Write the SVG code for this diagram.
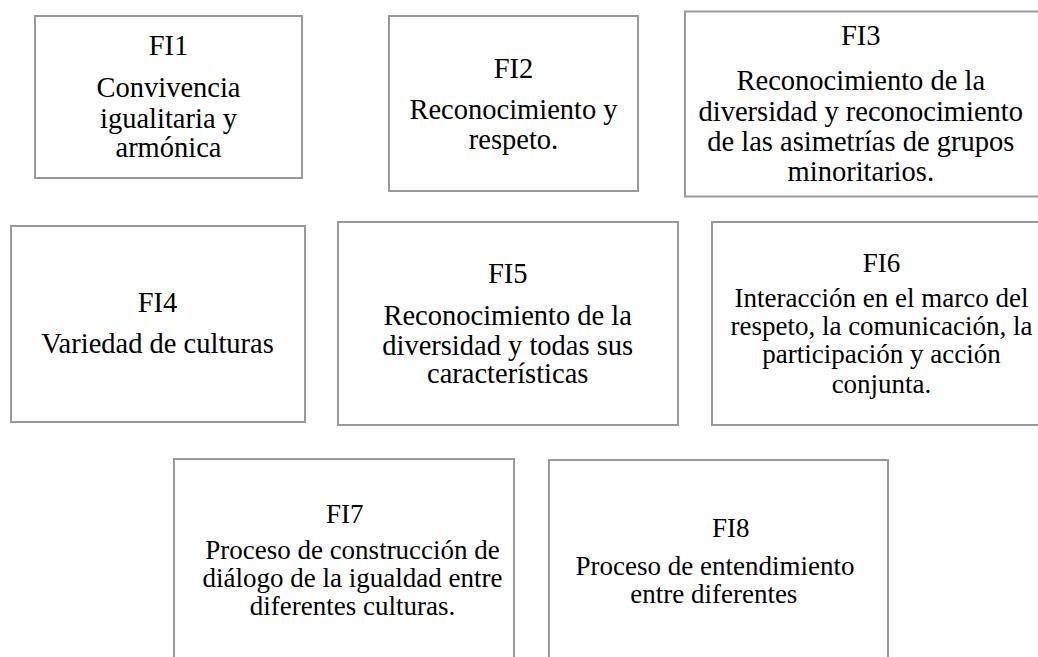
<svg xmlns="http://www.w3.org/2000/svg" width="1038" height="657" viewBox="0 0 1038 657">
<style>
.box{fill:#fff;stroke:#999;stroke-width:2}
text{font-family:"Liberation Serif","Times New Roman",serif;fill:#000;text-anchor:middle;font-size:28.5px}
.s27{font-size:27px}
</style>
<rect width="1038" height="657" fill="#fff"/>
<g id="connectors"></g>
<g id="FI1">
<rect class="box" x="35" y="16" width="267" height="162"/>
<text x="168.5" y="55">FI1</text>
<text x="168.5" y="97">Convivencia</text>
<text x="168.5" y="127.5">igualitaria y</text>
<text x="168.5" y="157">armónica</text>
</g>
<g id="FI2">
<rect class="box" x="389" y="16" width="249" height="175"/>
<text x="513.5" y="77.5">FI2</text>
<text x="513.5" y="118.5">Reconocimiento y</text>
<text x="513.5" y="149">respeto.</text>
</g>
<g id="FI3">
<rect class="box" x="685" y="11.5" width="370" height="185"/>
<text x="860.8" y="45">FI3</text>
<text x="860.8" y="90">Reconocimiento de la</text>
<text x="860.8" y="120.7">diversidad y reconocimiento</text>
<text x="860.8" y="150.7">de las asimetrías de grupos</text>
<text x="860.8" y="181">minoritarios.</text>
</g>
<g id="FI4">
<rect class="box" x="11" y="226" width="294" height="196"/>
<text x="157.5" y="311.7">FI4</text>
<text x="157.5" y="353.3">Variedad de culturas</text>
</g>
<g id="FI5">
<rect class="box" x="338" y="222" width="340" height="203"/>
<text x="507.7" y="282.7">FI5</text>
<text x="507.7" y="325">Reconocimiento de la</text>
<text x="507.7" y="355">diversidad y todas sus</text>
<text x="507.7" y="383.3">características</text>
</g>
<g id="FI6">
<rect class="box" x="712" y="222" width="360" height="203"/>
<text class="s27" x="881.5" y="272.3">FI6</text>
<text class="s27" x="881.5" y="306.7">Interacción en el marco del</text>
<text class="s27" x="881.5" y="335">respeto, la comunicación, la</text>
<text class="s27" x="881.5" y="363.3">participación y acción</text>
<text class="s27" x="881.5" y="392.7">conjunta.</text>
</g>
<g id="FI7">
<rect class="box" x="174" y="459" width="340" height="230"/>
<text class="s27" x="344.7" y="523.3">FI7</text>
<text class="s27" x="352.5" y="558.5">Proceso de construcción de</text>
<text class="s27" x="352.5" y="586.5">diálogo de la igualdad entre</text>
<text class="s27" x="352.5" y="614.5">diferentes culturas.</text>
</g>
<g id="FI8">
<rect class="box" x="549" y="460" width="339" height="230"/>
<text class="s27" x="730.8" y="537">FI8</text>
<text class="s27" x="715" y="575">Proceso de entendimiento</text>
<text class="s27" x="713.8" y="603.3">entre diferentes</text>
</g>
</svg>
